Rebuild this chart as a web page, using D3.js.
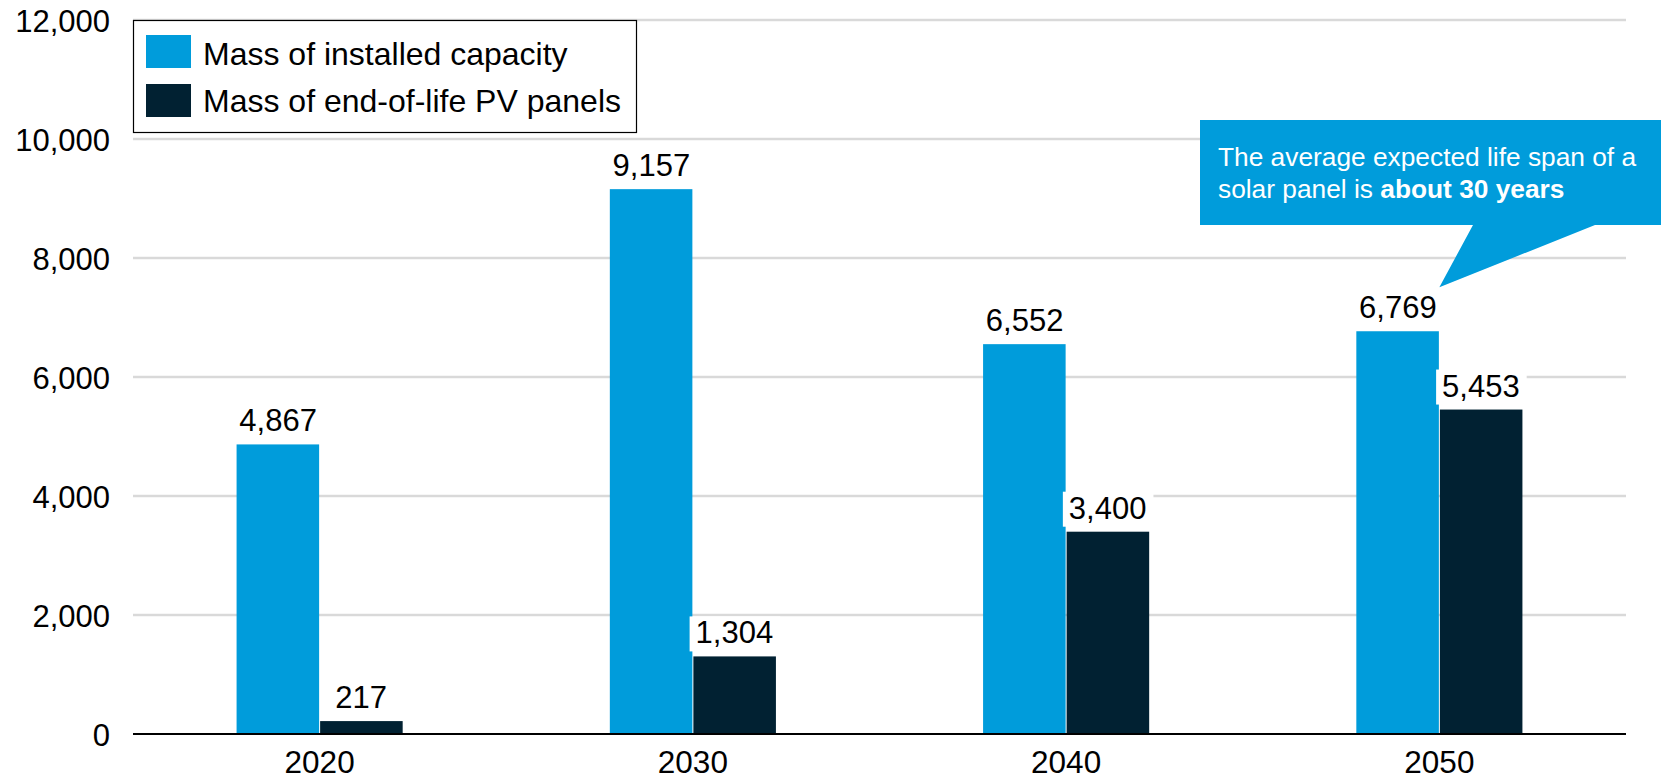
<!DOCTYPE html>
<meta charset="utf-8">
<style>
  body { margin: 0; background: #fff; }
  text { font-family: "Liberation Sans", Arial, sans-serif; }
</style>

<!-- Load d3.js -->
<script src="https://d3js.org/d3.v7.min.js"></script>

<div id="my_dataviz"></div>
<script>

// data
const years = ["2020", "2030", "2040", "2050"]
const seriesNames = ["Mass of installed capacity", "Mass of end-of-life PV panels"]
const installed = [4867, 9157, 6552, 6769]
const endOfLife = [217, 1304, 3400, 5453]
const yTicks = [0, 2000, 4000, 6000, 8000, 10000, 12000]
const calloutLines = [
  [{t: "The average expected life span of a", b: false}],
  [{t: "solar panel is ", b: false}, {t: "about 30 years", b: true}]
]

const colors = ["#009cdb", "#012132"]

const margin = {top: 20, right: 35, bottom: 46, left: 133},
    width = 1661 - margin.left - margin.right,
    height = 780 - margin.top - margin.bottom;

const svg = d3.select("#my_dataviz")
  .append("svg")
    .attr("width", 1661)
    .attr("height", 780)
  .append("g")
    .attr("transform", `translate(${margin.left},${margin.top})`);

const data = years.map((y, i) => ({year: y, values: [installed[i], endOfLife[i]]}))

// X scales
const x = d3.scaleBand()
  .domain(years)
  .range([0, width])
  .paddingInner(0.555)
  .paddingOuter(0.2775)

const xSub = d3.scaleBand()
  .domain([0, 1])
  .range([0, x.bandwidth()])

// Y scale
const y = d3.scaleLinear()
  .domain([0, 12000])
  .range([height, 0])

// gridlines
svg.append("g")
  .selectAll("line")
  .data(yTicks.filter(d => d > 0))
  .join("line")
    .attr("x1", 0)
    .attr("x2", width)
    .attr("y1", d => y(d))
    .attr("y2", d => y(d))
    .attr("stroke", "#d9d9d9")
    .attr("stroke-width", 2.5)

// Y tick labels
svg.append("g")
  .selectAll("text")
  .data(yTicks)
  .join("text")
    .attr("x", -23)
    .attr("y", d => y(d) + 12)
    .attr("text-anchor", "end")
    .attr("font-size", 31)
    .attr("fill", "#000")
    .text(d => d3.format(",")(d))

// bars
const groups = svg.append("g")
  .selectAll("g")
  .data(data)
  .join("g")
    .attr("transform", d => `translate(${x(d.year)},0)`)

groups.selectAll("rect")
  .data(d => d.values.map((v, i) => ({i: i, v: v})))
  .join("rect")
    .attr("x", d => xSub(d.i) + (d.i === 1 ? 0.5 : 0))
    .attr("width", xSub.bandwidth() - 0.5)
    .attr("y", d => y(d.v))
    .attr("height", d => y(0) - y(d.v))
    .attr("fill", d => colors[d.i])

// zero line
svg.append("line")
  .attr("x1", 0)
  .attr("x2", width)
  .attr("y1", y(0))
  .attr("y2", y(0))
  .attr("stroke", "#000")
  .attr("stroke-width", 2)

// X labels
svg.append("g")
  .selectAll("text")
  .data(years)
  .join("text")
    .attr("x", d => x(d) + x.bandwidth() / 2)
    .attr("y", height + 39)
    .attr("text-anchor", "middle")
    .attr("font-size", 31.5)
    .text(d => d)

// value labels with white background
const labels = groups.selectAll("g.lbl")
  .data(d => d.values.map((v, i) => ({i: i, v: v})))
  .join("g")
    .attr("class", "lbl")

labels.each(function(d) {
  const g = d3.select(this)
  const cx = xSub(d.i) + xSub.bandwidth() / 2
  const by = y(d.v) - 13
  const rect = g.append("rect").attr("fill", "#fff")
  const t = g.append("text")
    .attr("x", cx)
    .attr("y", by)
    .attr("text-anchor", "middle")
    .attr("font-size", 31)
    .text(d3.format(",")(d.v))
  const w = t.node().getComputedTextLength()
  rect.attr("x", cx - w / 2 - 6)
    .attr("y", by - 27)
    .attr("width", w + 13)
    .attr("height", 35)
})

// legend
const legend = svg.append("g")
  .attr("class", "legend")

legend.append("rect")
  .attr("x", 0.5)
  .attr("y", 0.5)
  .attr("width", 503)
  .attr("height", 112)
  .attr("fill", "#fff")
  .attr("stroke", "#000")
  .attr("stroke-width", 1.2)

legend.selectAll("rect.sw")
  .data(seriesNames)
  .join("rect")
    .attr("class", "sw")
    .attr("x", 13)
    .attr("y", (d, i) => 15 + i * 49)
    .attr("width", 45)
    .attr("height", 33)
    .attr("fill", (d, i) => colors[i])

legend.selectAll("text")
  .data(seriesNames)
  .join("text")
    .attr("x", 70)
    .attr("y", (d, i) => 45 + i * 47)
    .attr("font-size", 32)
    .text(d => d)

// callout pointing at the 2050 group
const tipX = x("2050") + x.bandwidth() / 2
const tipY = y(installed[3]) - 44
const callout = svg.append("g")
const bx = 1200 - margin.left, bTop = 120 - margin.top, bBot = 225 - margin.top

callout.append("path")
  .attr("d", `M${bx},${bTop}H${1661 - margin.left}V${bBot}H${1595 - margin.left}L${tipX},${tipY}L${1473 - margin.left},${bBot}H${bx}Z`)
  .attr("fill", colors[0])

const ct = callout.append("text")
  .attr("fill", "#fff")
  .attr("font-size", 26.3)

calloutLines.forEach((line, li) => {
  line.forEach((part, pi) => {
    const ts = ct.append("tspan")
      .attr("font-weight", part.b ? "bold" : "normal")
      .text(part.t)
    if (pi === 0) ts.attr("x", bx + 18).attr("y", 166 - margin.top + li * 32)
  })
})

</script>
